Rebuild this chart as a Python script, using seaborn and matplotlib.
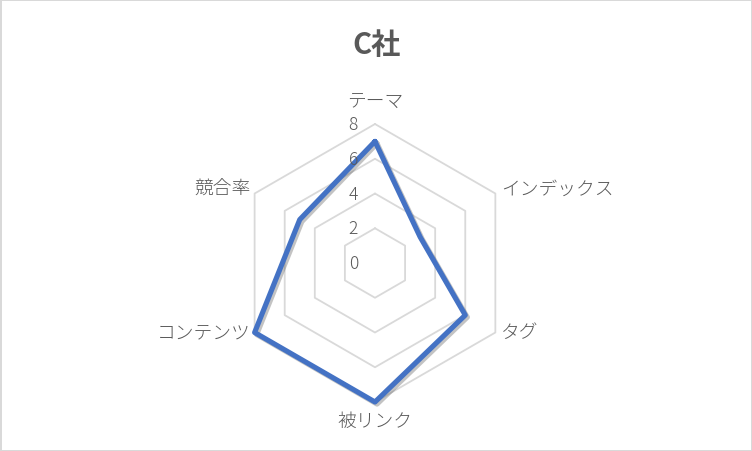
import numpy as np
import pandas as pd
import matplotlib
matplotlib.use('Agg')
import matplotlib.pyplot as plt
import matplotlib.patheffects as pe
import seaborn as sns

# data
categories = ['テーマ', 'インデックス', 'タグ', '被リンク', 'コンテンツ', '競合率']
values = [7, 3, 6, 8, 8, 5]
rings = [2, 4, 6, 8]
tick_labels = ['0', '2', '4', '6', '8']
title = 'C社'

sns.set_theme(style='white')
plt.rcParams['font.family'] = ['Noto Sans CJK JP', 'DejaVu Sans']

text_color = '#595959'
line_color = '#4472C4'
grid_color = '#D9D9D9'

n = len(categories)
theta = np.linspace(0, 2 * np.pi, n, endpoint=False)
theta_closed = np.append(theta, theta[0] + 2 * np.pi)

fig = plt.figure(figsize=(7.52, 4.52), dpi=100)
fig.patch.set_facecolor('white')
fig.patch.set_edgecolor(grid_color)
fig.patch.set_linewidth(2)

ax = fig.add_axes([0.3138, 0.1084, 0.3697, 0.615], projection='polar')
ax.set_theta_zero_location('N')
ax.set_theta_direction(-1)
ax.set_ylim(0, 8)
ax.set_axis_off()

# hexagonal grid rings
for r in rings:
    ax.plot(theta_closed, [r] * (n + 1), color=grid_color, lw=1.3, clip_on=False, zorder=1)

# data series
df = pd.DataFrame({'theta': theta_closed, 'value': values + values[:1]})
sns.lineplot(data=df, x='theta', y='value', sort=False, ax=ax, color=line_color,
             linewidth=3.7, clip_on=False, zorder=3,
             path_effects=[pe.SimpleLineShadow(offset=(1.5, -1.5), alpha=0.35, shadow_color='#555555'),
                           pe.Normal()])
ax.set_xlabel('')
ax.set_ylabel('')

# radial tick labels along the vertical axis
for lab in tick_labels:
    ax.annotate(lab, xy=(0, float(lab)), xytext=(-17, 0), textcoords='offset pixels',
                ha='right', va='center', fontsize=12.5, color=text_color,
                fontweight='light')

# category labels around the outside
for t, cat in zip(theta, categories):
    s, c = np.sin(t), np.cos(t)
    if abs(s) < 1e-6:
        ha = 'center'
        off = (0, 23) if c > 0 else (0, -19)
    else:
        ha = 'left' if s > 0 else 'right'
        dx = 6 if s > 0 else -4
        dy = 4.5 if c > 0 else 0
        off = (dx, dy)
    ax.annotate(cat, xy=(t, 8), xytext=off, textcoords='offset pixels',
                ha=ha, va='center', fontsize=13.5, color=text_color,
                fontweight='light')

fig.text(0.5, 1 - 45 / 452, title, ha='center', va='center', fontsize=21,
         fontweight='bold', color=text_color)

fig.savefig('out.png', dpi=100, facecolor=fig.get_facecolor(), edgecolor=fig.get_edgecolor())
